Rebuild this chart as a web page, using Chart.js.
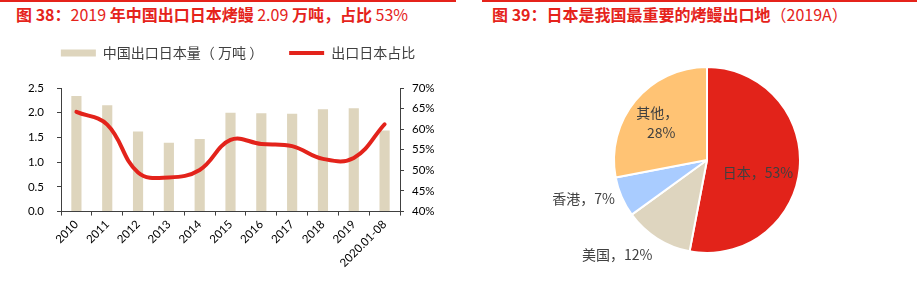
<!DOCTYPE html>
<html><head><meta charset="utf-8">
<script src="https://cdn.jsdelivr.net/npm/chart.js@4/dist/chart.umd.min.js"></script>
<style>
html,body{margin:0;padding:0;background:#fff;width:917px;height:282px;overflow:hidden;}
body{position:relative;font-family:"Noto Sans CJK SC",sans-serif;}
.rule{position:absolute;top:0;height:2px;background:#E5231B;}
.title{position:absolute;top:3px;font-size:16px;color:#E5231B;white-space:nowrap;line-height:22px;font-weight:700;}
.title span{font-weight:400}
#c1{position:absolute;left:0;top:0;}
#c2{position:absolute;left:460px;top:0;}
</style></head><body>
<div class="rule" style="left:0;width:456px"></div>
<div class="rule" style="left:482px;width:435px"></div>
<div class="title" style="left:16px">图 38：<span>2019 </span>年中国出口日本烤鳗<span> 2.09 </span>万吨，占比<span> 53%</span></div>
<div class="title" style="left:492px">图 39：日本是我国最重要的烤鳗出口地<span>（2019A）</span></div>
<canvas id="c1" width="460" height="282"></canvas>
<canvas id="c2" width="457" height="282"></canvas>
<script>
// ---- data ----
const categories = ['2010','2011','2012','2013','2014','2015','2016','2017','2018','2019','2020.01-08'];
const exportVolume = [2.34, 2.15, 1.62, 1.39, 1.47, 2.00, 1.99, 1.98, 2.07, 2.09, 1.64];
const exportShare = [64.2, 61.1, 49.5, 48.3, 50.1, 57.4, 56.4, 55.9, 52.8, 53.0, 61.2];
const volumeLabel = '中国出口日本量（ 万吨 ）';
const shareLabel = '出口日本占比';

const destinations = ['日本', '美国', '香港', '其他'];
const destinationShare = [53, 12, 7, 28];

// ---- styles ----
const barColor = '#DED5BD';
const lineColor = '#E3231B';
const pieColors = ['#E2231A', '#DED5BF', '#A9CCFF', '#FFC374'];
const axisColor = '#404040';
const tickFont = {family: 'Lato', size: 11.5};

Chart.defaults.font.family = '"Noto Sans CJK SC", sans-serif';
Chart.defaults.animation = false;

// adds extra space beneath the legend box and nudges it sideways
const legendGap = {
  id: 'legendGap',
  beforeLayout(chart, args, opts) {
    const lg = chart.legend;
    if (lg && !lg._gapPatched) {
      const fit = lg.fit;
      lg.fit = function() { fit.call(this); this.height += opts.extra; };
      lg._gapPatched = true;
    }
  },
  afterLayout(chart, args, opts) {
    const lg = chart.legend;
    if (lg) { lg.left += opts.shift; lg.right += opts.shift; }
  }
};

new Chart(document.getElementById('c1'), {
  data: {
    labels: categories,
    datasets: [
      {type: 'line', label: shareLabel, data: exportShare, yAxisID: 'y1',
       borderColor: lineColor, borderWidth: 4, pointRadius: 0, tension: 0.4, borderCapStyle: 'round'},
      {type: 'bar', label: volumeLabel, data: exportVolume, yAxisID: 'y',
       backgroundColor: barColor, categoryPercentage: 1, barPercentage: 0.33}
    ]
  },
  options: {
    responsive: false, devicePixelRatio: 1, events: [],
    layout: {padding: {top: 20, bottom: 10, left: 0, right: 0}},
    plugins: {
      tooltip: {enabled: false},
      legendGap: {extra: 18, shift: 8},
      legend: {
        position: 'top',
        labels: {
          usePointStyle: true, pointStyleWidth: 35, boxHeight: 7, padding: 26,
          color: '#404040', font: {size: 14},
          generateLabels: chart => {
            const ds = chart.data.datasets;
            return [
              {text: ds[1].label, fillStyle: barColor, strokeStyle: barColor, lineWidth: 0, pointStyle: 'rect', datasetIndex: 1, fontColor: '#404040'},
              {text: ds[0].label, fillStyle: lineColor, strokeStyle: lineColor, lineWidth: 4, pointStyle: 'line', datasetIndex: 0, fontColor: '#404040'}
            ];
          }
        }
      }
    },
    scales: {
      x: {
        grid: {display: true, drawOnChartArea: false, offset: true, tickLength: 4, color: axisColor},
        border: {color: axisColor},
        ticks: {minRotation: 45, maxRotation: 45, color: '#000', font: tickFont, padding: 2, autoSkip: false}
      },
      y: {
        position: 'left', min: 0, max: 2.5,
        grid: {display: true, drawOnChartArea: false, tickLength: 4, color: axisColor},
        border: {color: axisColor},
        ticks: {stepSize: 0.5, callback: v => v.toFixed(1), color: '#000', font: tickFont, padding: 13},
        afterFit: s => { s.width = 61; }
      },
      y1: {
        position: 'right', min: 40, max: 70,
        grid: {display: true, drawOnChartArea: false, tickLength: 4, color: axisColor},
        border: {color: axisColor},
        ticks: {stepSize: 5, callback: v => v + '%', color: '#000', font: tickFont, padding: 8},
        afterFit: s => { s.width = 60; }
      }
    }
  },
  plugins: [legendGap]
});

// pie label placement (style): radial factor and pixel nudges per slice
const pieLabelPlacement = [
  {f: 0.55, dx: 0, dy: 8, wrap: false},
  {f: 1.2, dx: -30, dy: 0, wrap: false},
  {f: 1.2, dx: -21, dy: -6, wrap: false},
  {f: 0.667, dx: -2, dy: 2, wrap: true}
];

const pieLabels = {
  id: 'pieLabels',
  afterDatasetsDraw(chart) {
    const ctx = chart.ctx;
    const meta = chart.getDatasetMeta(0);
    ctx.save();
    ctx.font = '14px "Noto Sans CJK SC", sans-serif';
    ctx.fillStyle = '#404040';
    ctx.textAlign = 'center';
    ctx.textBaseline = 'middle';
    meta.data.forEach((arc, i) => {
      const p = pieLabelPlacement[i];
      const mid = (arc.startAngle + arc.endAngle) / 2;
      const x = arc.x + Math.cos(mid) * arc.outerRadius * p.f + p.dx;
      const y = arc.y + Math.sin(mid) * arc.outerRadius * p.f + p.dy;
      const name = chart.data.labels[i];
      const val = chart.data.datasets[0].data[i] + '%';
      if (p.wrap) {
        ctx.fillText(name + '，', x, y - 10);
        ctx.fillText(val, x + 4, y + 10);
      } else {
        ctx.fillText(name + '，' + val, x, y);
      }
    });
    ctx.restore();
  }
};

new Chart(document.getElementById('c2'), {
  type: 'pie',
  data: {
    labels: destinations,
    datasets: [{data: destinationShare, backgroundColor: pieColors, borderColor: '#fff', borderWidth: 2}]
  },
  options: {
    responsive: false, devicePixelRatio: 1, events: [],
    layout: {padding: {top: 66, bottom: 28, left: 153, right: 116}},
    plugins: {legend: {display: false}, tooltip: {enabled: false}}
  },
  plugins: [pieLabels]
});
</script>
</body></html>
